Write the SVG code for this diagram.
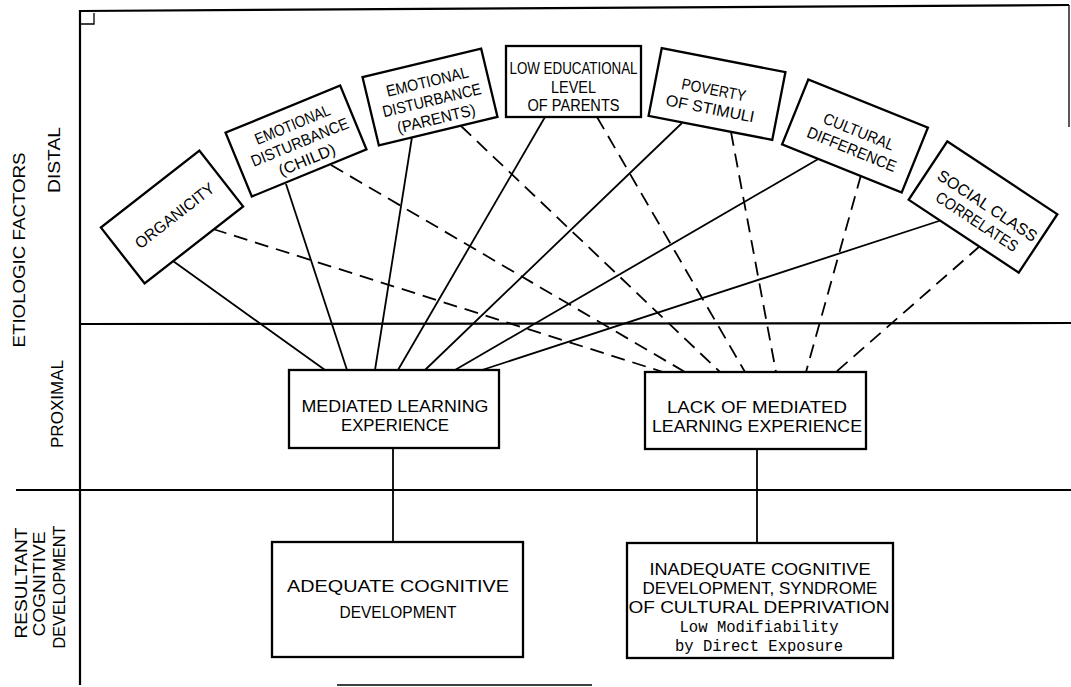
<svg xmlns="http://www.w3.org/2000/svg" width="1071" height="687" viewBox="0 0 1071 687">
<style>
.frame{stroke:#000;stroke-width:2.2;fill:none}
.thin{stroke:#000;stroke-width:1.3;fill:none}
.box{fill:#fff;stroke:#000;stroke-width:2.3}
.ln{stroke:#000;stroke-width:1.8;fill:none}
.dash{stroke-dasharray:14 8}
.t{font-family:"Liberation Sans",Arial,sans-serif;font-size:16px;text-anchor:middle;fill:#000}
.t2{font-size:17px}
.mono{font-family:"Liberation Mono","Courier New",monospace;font-size:16px}
.lab{font-family:"Liberation Sans",Arial,sans-serif;font-size:17px;text-anchor:middle;fill:#000}
</style>
<rect width="1071" height="687" fill="#fff"/>
<g id="frame">
<line class="frame" x1="80" y1="10" x2="80" y2="685"/>
<line class="frame" x1="80" y1="11" x2="1069" y2="5"/>
<line class="thin" x1="1069" y1="5" x2="1069" y2="127"/>
<line class="frame" x1="80" y1="324" x2="1071" y2="323"/>
<line class="frame" x1="16" y1="490" x2="1071" y2="490"/>
<path class="thin" d="M80,24 H94 V13"/>
<line class="thin" x1="337" y1="685" x2="592" y2="685"/>
</g>
<g id="labels">
<text class="lab" transform="translate(25,250) rotate(-90)" textLength="195" lengthAdjust="spacingAndGlyphs">ETIOLOGIC FACTORS</text>
<text class="lab" transform="translate(60,160) rotate(-90)" textLength="66" lengthAdjust="spacingAndGlyphs">DISTAL</text>
<text class="lab" transform="translate(63,404) rotate(-90)" textLength="88" lengthAdjust="spacingAndGlyphs">PROXIMAL</text>
<text class="lab" transform="translate(27,583) rotate(-90)" textLength="111" lengthAdjust="spacingAndGlyphs">RESULTANT</text>
<text class="lab" transform="translate(45,584) rotate(-90)" textLength="105" lengthAdjust="spacingAndGlyphs">COGNITIVE</text>
<text class="lab" transform="translate(65,587) rotate(-90)" textLength="123" lengthAdjust="spacingAndGlyphs">DEVELOPMENT</text>
</g>
<g id="connectors">
<line class="ln" x1="173" y1="261" x2="325" y2="370"/>
<line class="ln" x1="286" y1="184" x2="347" y2="370"/>
<line class="ln" x1="412" y1="137" x2="375" y2="370"/>
<line class="ln" x1="545" y1="117" x2="398" y2="370"/>
<line class="ln" x1="682" y1="123" x2="425" y2="370"/>
<line class="ln" x1="820" y1="158" x2="455" y2="370"/>
<line class="ln" x1="942" y1="220" x2="482" y2="370"/>
<line class="ln dash" x1="213" y1="229" x2="663" y2="372"/>
<line class="ln dash" x1="331" y1="165" x2="685" y2="372"/>
<line class="ln dash" x1="461" y1="126" x2="720" y2="372"/>
<line class="ln dash" x1="597" y1="117" x2="745" y2="372"/>
<line class="ln dash" x1="731" y1="132" x2="776" y2="372"/>
<line class="ln dash" x1="861" y1="175" x2="806" y2="372"/>
<line class="ln dash" x1="980" y1="246" x2="836" y2="372"/>
<line class="ln" x1="393" y1="448" x2="393" y2="542"/>
<line class="ln" x1="757" y1="449" x2="757" y2="543"/>
</g>
<g id="organicity" transform="translate(172,217) rotate(-38)">
<rect class="box" x="-62.5" y="-35.5" width="125" height="71"/>
<text class="t" x="3" y="6" textLength="96" lengthAdjust="spacingAndGlyphs">ORGANICITY</text>
</g>
<g id="emotional-child" transform="translate(296,141) rotate(-22.4)">
<rect class="box" x="-62" y="-34.5" width="124" height="69"/>
<text class="t" x="3" y="-11" textLength="80" lengthAdjust="spacingAndGlyphs">EMOTIONAL</text>
<text class="t" x="3" y="8" textLength="104" lengthAdjust="spacingAndGlyphs">DISTURBANCE</text>
<text class="t" x="3" y="27" textLength="60" lengthAdjust="spacingAndGlyphs">(CHILD)</text>
</g>
<g id="emotional-parents" transform="translate(430,97) rotate(-13.5)">
<rect class="box" x="-61" y="-35" width="122" height="70"/>
<text class="t" x="1" y="-10" textLength="84" lengthAdjust="spacingAndGlyphs">EMOTIONAL</text>
<text class="t" x="1" y="9" textLength="101" lengthAdjust="spacingAndGlyphs">DISTURBANCE</text>
<text class="t" x="1" y="28" textLength="80" lengthAdjust="spacingAndGlyphs">(PARENTS)</text>
</g>
<g id="low-educational">
<rect class="box" x="506" y="46" width="135" height="71"/>
<text class="t" x="573.5" y="74" textLength="128" lengthAdjust="spacingAndGlyphs">LOW EDUCATIONAL</text>
<text class="t" x="573.5" y="93" textLength="45" lengthAdjust="spacingAndGlyphs">LEVEL</text>
<text class="t" x="573.5" y="111" textLength="92" lengthAdjust="spacingAndGlyphs">OF PARENTS</text>
</g>
<g id="poverty" transform="translate(717,94) rotate(11)">
<rect class="box" x="-63" y="-34.5" width="126" height="69"/>
<text class="t" x="-4" y="2" textLength="65" lengthAdjust="spacingAndGlyphs">POVERTY</text>
<text class="t" x="-4" y="21" textLength="90" lengthAdjust="spacingAndGlyphs">OF STIMULI</text>
</g>
<g id="cultural" transform="translate(855,136) rotate(22)">
<rect class="box" x="-64.5" y="-35" width="129" height="70"/>
<text class="t" x="2" y="0" textLength="75" lengthAdjust="spacingAndGlyphs">CULTURAL</text>
<text class="t" x="2" y="19" textLength="95" lengthAdjust="spacingAndGlyphs">DIFFERENCE</text>
</g>
<g id="social-class" transform="translate(983,207) rotate(33.5)">
<rect class="box" x="-66" y="-35" width="132" height="70"/>
<text class="t" x="3" y="2" textLength="116" lengthAdjust="spacingAndGlyphs">SOCIAL CLASS</text>
<text class="t" x="3" y="21" textLength="95" lengthAdjust="spacingAndGlyphs">CORRELATES</text>
</g>
<g id="mle">
<rect class="box" x="289" y="370" width="210" height="78"/>
<text class="t t2" x="395" y="412" textLength="187" lengthAdjust="spacingAndGlyphs">MEDIATED LEARNING</text>
<text class="t t2" x="395" y="431" textLength="108" lengthAdjust="spacingAndGlyphs">EXPERIENCE</text>
</g>
<g id="lmle">
<rect class="box" x="645" y="372" width="221" height="77"/>
<text class="t t2" x="757" y="413" textLength="180" lengthAdjust="spacingAndGlyphs">LACK OF MEDIATED</text>
<text class="t t2" x="757" y="432" textLength="210" lengthAdjust="spacingAndGlyphs">LEARNING EXPERIENCE</text>
</g>
<g id="adequate">
<rect class="box" x="272" y="542" width="251" height="115"/>
<text class="t t2" x="398" y="592" textLength="222" lengthAdjust="spacingAndGlyphs">ADEQUATE COGNITIVE</text>
<text class="t t2" x="398" y="618" textLength="117" lengthAdjust="spacingAndGlyphs">DEVELOPMENT</text>
</g>
<g id="inadequate">
<rect class="box" x="627" y="543" width="266" height="115"/>
<text class="t t2" x="760" y="575" textLength="221" lengthAdjust="spacingAndGlyphs">INADEQUATE COGNITIVE</text>
<text class="t t2" x="760" y="594" textLength="235" lengthAdjust="spacingAndGlyphs">DEVELOPMENT, SYNDROME</text>
<text class="t t2" x="759" y="613" textLength="261" lengthAdjust="spacingAndGlyphs">OF CULTURAL DEPRIVATION</text>
<text class="t mono" x="759" y="632" textLength="159" lengthAdjust="spacingAndGlyphs">Low Modifiability</text>
<text class="t mono" x="759" y="651" textLength="168" lengthAdjust="spacingAndGlyphs">by Direct Exposure</text>
</g>
</svg>
